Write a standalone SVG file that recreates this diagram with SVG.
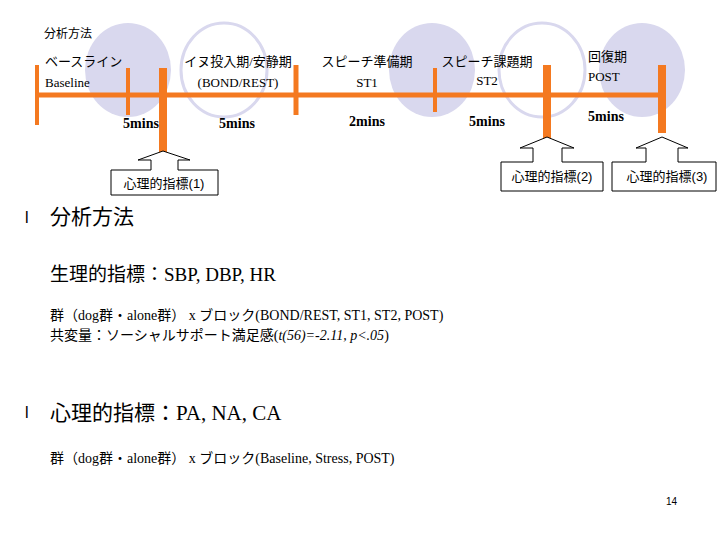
<svg xmlns="http://www.w3.org/2000/svg" width="720" height="540" viewBox="0 0 720 540">
<style>
.j{font-family:"Liberation Serif","Noto Sans CJK JP",serif;fill:#000}
.s{font-family:"Liberation Sans","Noto Sans CJK JP",sans-serif;fill:#000}
.m{font-family:"Liberation Serif",serif;font-weight:bold;font-size:14px;text-anchor:middle}
.fill{fill:#d9d8ee}
.out{fill:none;stroke:#d9d8ee;stroke-width:3}
.or{stroke:#f47920}
.call{fill:#fff;stroke:#000;stroke-width:1}
</style>
<rect width="720" height="540" fill="#fff"/>
<g id="ellipses">
<ellipse class="fill" cx="128" cy="70" rx="43" ry="47"/>
<ellipse class="out" cx="224" cy="70" rx="43" ry="47"/>
<ellipse class="fill" cx="432" cy="70" rx="43" ry="47"/>
<ellipse class="out" cx="542" cy="70" rx="43" ry="47"/>
<ellipse class="fill" cx="642" cy="70" rx="43" ry="47"/>
</g>
<text class="s" x="44" y="38" font-size="12">分析方法</text>
<g id="timeline">
<line class="or" x1="36" y1="95" x2="664" y2="95" stroke-width="5"/>
<line class="or" x1="37" y1="65" x2="37" y2="125" stroke-width="4"/>
<line class="or" x1="128" y1="68" x2="128" y2="115" stroke-width="4"/>
<line class="or" x1="296" y1="65" x2="296" y2="115" stroke-width="5"/>
<line class="or" x1="435" y1="68" x2="435" y2="112" stroke-width="4"/>
<line class="or" x1="163" y1="68" x2="163" y2="160" stroke-width="8"/>
<line class="or" x1="547" y1="65" x2="547" y2="148" stroke-width="8"/>
<line class="or" x1="662" y1="65" x2="662" y2="133" stroke-width="8"/>
</g>
<g id="labels" font-size="13">
<text class="j" x="45" y="66">ベースライン</text>
<text class="j" x="45" y="87">Baseline</text>
<text class="j" x="238" y="66" text-anchor="middle">イヌ投入期/安静期</text>
<text class="j" x="238" y="87" text-anchor="middle">(BOND/REST)</text>
<text class="j" x="367" y="66" text-anchor="middle">スピーチ準備期</text>
<text class="j" x="367" y="87" text-anchor="middle">ST1</text>
<text class="j" x="487" y="66" text-anchor="middle">スピーチ課題期</text>
<text class="j" x="487" y="85" text-anchor="middle">ST2</text>
<text class="j" x="588" y="61">回復期</text>
<text class="j" x="588" y="81">POST</text>
<text class="j m" x="141" y="128">5mins</text>
<text class="j m" x="237" y="128">5mins</text>
<text class="j m" x="367" y="126">2mins</text>
<text class="j m" x="487" y="126">5mins</text>
<text class="j m" x="606" y="121">5mins</text>
</g>
<g id="callout1">
<path class="call" d="M163,151 L190,160 L178,160 L178,170 L218,170 L218,195 L111,195 L111,170 L151,170 L151,160 L138,160 Z"/>
<text class="s" x="164" y="188" font-size="13" text-anchor="middle">心理的指標(1)</text>
</g>
<g id="callout2">
<path class="call" d="M547,137 L574,148 L562,148 L562,162 L603,162 L603,191 L501,191 L501,162 L533,162 L533,148 L520,148 Z"/>
<text class="s" x="552" y="181" font-size="13" text-anchor="middle">心理的指標(2)</text>
</g>
<g id="callout3">
<path class="call" d="M662,137 L688,148 L678,148 L678,162 L716,162 L716,191 L612,191 L612,162 L646,162 L646,148 L636,148 Z"/>
<text class="s" x="667" y="181" font-size="13" text-anchor="middle">心理的指標(3)</text>
</g>
<g id="body">
<text class="s" x="25" y="223" font-size="16" fill="#999">l</text>
<text class="s" x="50" y="224" font-size="21">分析方法</text>
<text class="j" x="50" y="281" font-size="19">生理的指標：SBP, DBP, HR</text>
<text class="j" x="50" y="320" font-size="14">群（dog群・alone群） x  ブロック(BOND/REST, ST1, ST2, POST)</text>
<text class="j" x="50" y="340" font-size="14">共変量：ソーシャルサポート満足感(<tspan font-style="italic">t(56)=-2.11, p&lt;.05</tspan>)</text>
<text class="s" x="25" y="418" font-size="16" fill="#999">l</text>
<text class="j" x="50" y="420" font-size="21">心理的指標：PA, NA, CA</text>
<text class="j" x="50" y="463" font-size="14">群（dog群・alone群） x  ブロック(Baseline, Stress, POST)</text>
<text class="s" x="666" y="505" font-size="10">14</text>
</g>
</svg>
